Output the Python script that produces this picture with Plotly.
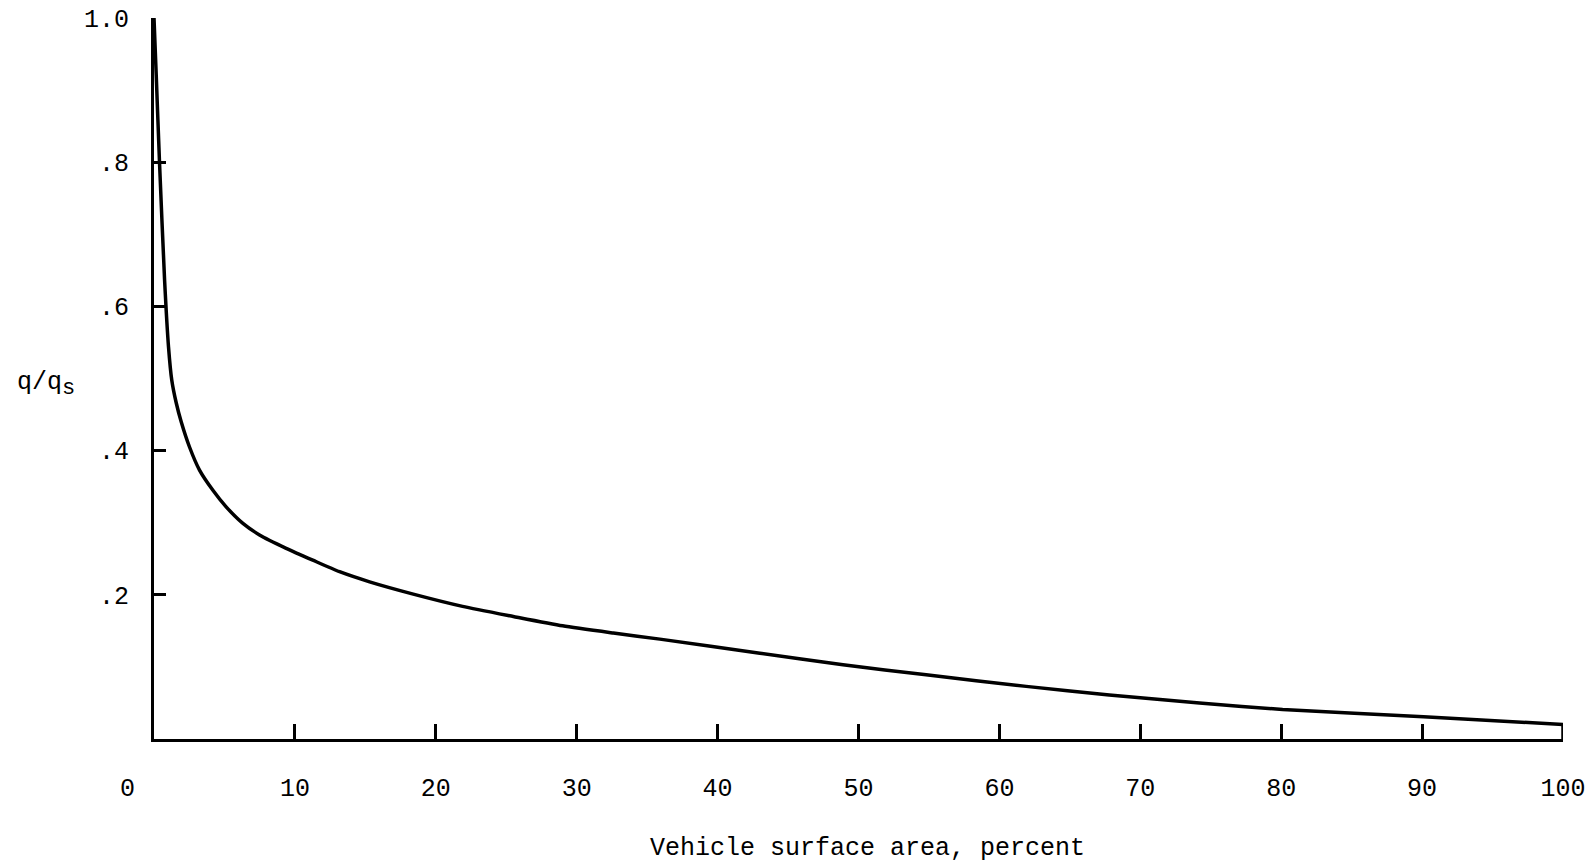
import plotly.graph_objects as go

# Data
area_pct = [0, 0.16, 0.39, 0.75, 1.03, 1.26, 1.58, 1.93, 2.52, 3.23, 4.18, 5.12,
            6.31, 7.49, 9.38, 11.27, 13.17, 15.3, 18.4, 21.9, 25.5, 29.0, 32.6,
            35.9, 43.0, 48.9, 54.8, 61.9, 67.8, 74.2, 80.1, 90.1, 100]
q_ratio = [1.0, 0.92, 0.8, 0.637, 0.544, 0.498, 0.466, 0.440, 0.405, 0.373, 0.345,
           0.322, 0.299, 0.283, 0.2645, 0.248, 0.232, 0.218, 0.201, 0.184, 0.170,
           0.157, 0.147, 0.1385, 0.119, 0.103, 0.089, 0.073, 0.061, 0.050, 0.041,
           0.031, 0.020]

x_tickvals = [10, 20, 30, 40, 50, 60, 70, 80, 90, 100]
x_ticktext = ["10", "20", "30", "40", "50", "60", "70", "80", "90", "100"]
y_tickvals = [0.2, 0.4, 0.6, 0.8, 1.0]
y_ticktext = [".2", ".4", ".6", ".8", "1.0"]

FONT = "Liberation Mono, Courier New, monospace"
FS = 25

fig = go.Figure()
fig.add_trace(go.Scatter(
    x=area_pct, y=q_ratio, mode="lines",
    line=dict(color="black", width=3.5, shape="spline", smoothing=0.6),
    cliponaxis=False, hoverinfo="skip", showlegend=False,
))
# closing vertical stroke at the right end (axis up to last value)
fig.add_trace(go.Scatter(
    x=[area_pct[-1], area_pct[-1]], y=[0, q_ratio[-1]], mode="lines",
    line=dict(color="black", width=3.5),
    cliponaxis=False, hoverinfo="skip", showlegend=False,
))

fig.update_layout(
    width=1589, height=867,
    margin=dict(l=154, r=26, t=18, b=128, autoexpand=False),
    paper_bgcolor="white", plot_bgcolor="white",
    font=dict(family=FONT, size=FS, color="black"),
    xaxis=dict(
        range=[0, 100], showgrid=False, zeroline=False, automargin=False,
        showline=True, linecolor="black", linewidth=3,
        tickvals=x_tickvals, ticktext=x_ticktext,
        ticks="inside", ticklen=15, tickwidth=3, tickcolor="black",
        ticklabelstandoff=24,
        tickfont=dict(family=FONT, size=FS, color="black"),
    ),
    yaxis=dict(
        range=[0, 1], showgrid=False, zeroline=False, automargin=False,
        showline=True, linecolor="black", linewidth=3,
        tickvals=y_tickvals, ticktext=y_ticktext,
        ticks="inside", ticklen=12, tickwidth=3, tickcolor="black",
        ticklabelstandoff=17,
        tickfont=dict(family=FONT, size=FS, color="black"),
    ),
    annotations=[
        dict(text="0", x=0, y=0, xref="x", yref="paper", xanchor="center",
             yanchor="top", xshift=-27, yshift=-34, showarrow=False,
             font=dict(family=FONT, size=FS, color="black")),
        dict(text="Vehicle surface area, percent", x=0.5, y=-0.152,
             xref="paper", yref="paper", xanchor="center", yanchor="middle",
             xshift=9, showarrow=False,
             font=dict(family=FONT, size=FS, color="black")),
        dict(text="q/q<sub><span style='font-size:22px'>s</span></sub>",
             x=-0.099, y=0.491, xref="paper", yref="paper",
             xanchor="left", yanchor="middle", showarrow=False,
             font=dict(family=FONT, size=FS, color="black")),
    ],
)

fig.write_html("out.html")
